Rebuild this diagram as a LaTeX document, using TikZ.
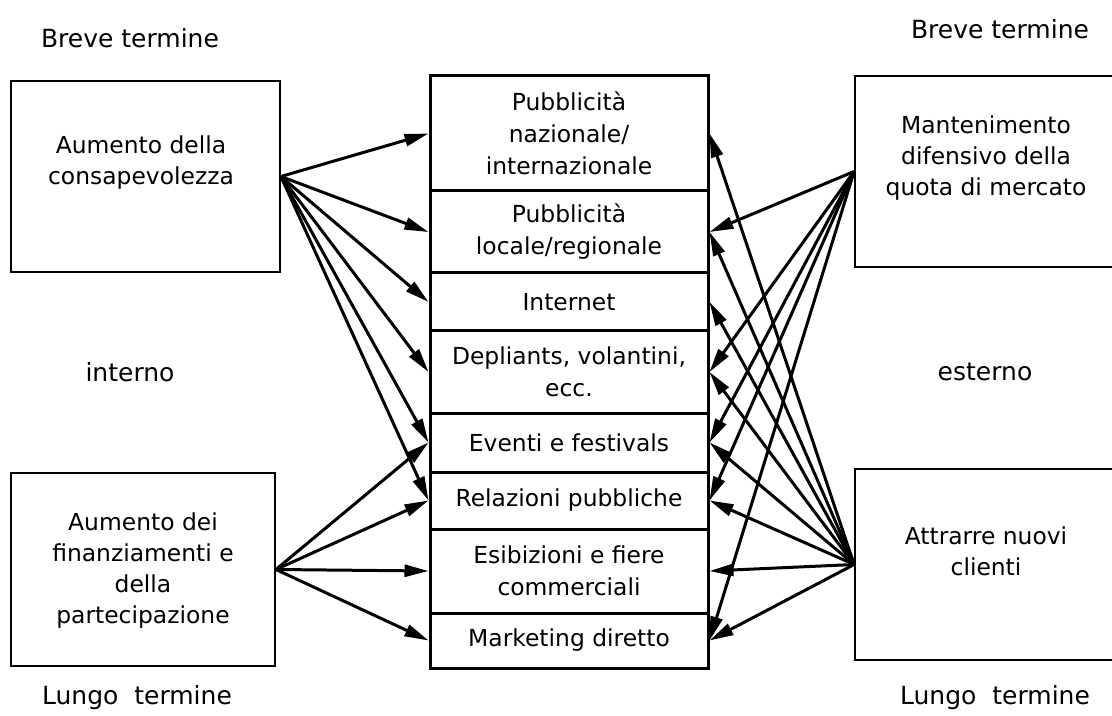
\documentclass[tikz,border=0pt]{standalone}
\usepackage{fontspec}
\setmainfont{DejaVu Sans}
\usepackage{tikz}
\usetikzlibrary{arrows.meta,calc,positioning}
\tikzset{
  goalbox/.style={draw,line width=0.9pt,minimum width=#1,minimum height=95.5pt,inner sep=0pt},
  goaltext/.style={align=center,font=\fontsize{11.7}{15.5}\selectfont},
  chanrow/.style={draw,line width=1.5pt,minimum width=139pt,inner sep=0pt,align=center,font=\fontsize{11.7}{16}\selectfont},
  sidetext/.style={font=\fontsize{12.5}{14}\selectfont},
  link/.style={line width=1.5pt,-{Triangle[length=12pt,width=6pt]}}
}
\newcommand{\canale}[4]{%
  \node[chanrow,minimum height=#3] (#1) at (569,#2) {#4};%
}

\begin{document}
\begin{tikzpicture}[x=0.5pt,y=-0.5pt]
  \useasboundingbox (0,0) rectangle (1112,716);
  \canale{r1}{133.5}{57.5pt}{Pubblicità\\nazionale/\\internazionale}
  \canale{r2}{232}{41pt}{Pubblicità\\locale/regionale}
  \canale{r3}{302}{29pt}{Internet}
  \canale{r4}{372}{41pt}{Depliants, volantini,\\ecc.}
  \canale{r5}{442.5}{29.5pt}{Eventi e festivals}
  \canale{r6}{500.5}{28.5pt}{Relazioni pubbliche}
  \canale{r7}{571}{42pt}{Esibizioni e fiere\\commerciali}
  \canale{r8}{640.5}{27.5pt}{Marketing diretto}
  \node[goalbox=134.5pt] (lt) at (145.5,176.5) {};
  \node[goaltext] (lt-txt) at (141,163) {Aumento della\\consapevolezza};
  \node[goalbox=132pt,minimum height=96.5pt] (lb) at (143,569.5) {};
  \node[goaltext] (lb-txt) at (143,571) {Aumento dei\\finanziamenti e\\della\\partecipazione};
  \node[goalbox=131pt] (rt) at (986,171.5) {};
  \node[goaltext] (rt-txt) at (986,158) {Mantenimento\\difensivo della\\quota di mercato};
  \node[goalbox=131pt] (rb) at (986,564.5) {};
  \node[goaltext] (rb-txt) at (986,551) {Attrarre nuovi\\clienti};
  \node[sidetext] (bt-l) at (130,38) {Breve termine};
  \node[sidetext] (bt-r) at (1000,29) {Breve termine};
  \node[sidetext] (int) at (130,372) {interno};
  \node[sidetext] (ext) at (985,372) {esterno};
  \node[sidetext] (lt-l) at (137,698) {Lungo\ \ termine};
  \node[sidetext] (lt-r) at (995,698) {Lungo\ \ termine};
  \foreach \r in {1,...,6} \draw[link] (lt.east) -- (r\r.west);
  \foreach \r in {5,...,8} \draw[link] (lb.east) -- (r\r.west);
  \foreach \r in {2,4,5,6,8} \draw[link] (rt.west) -- (r\r.east);
  \foreach \r in {1,...,8} \draw[link] (rb.west) -- (r\r.east);
\end{tikzpicture}
\end{document}
